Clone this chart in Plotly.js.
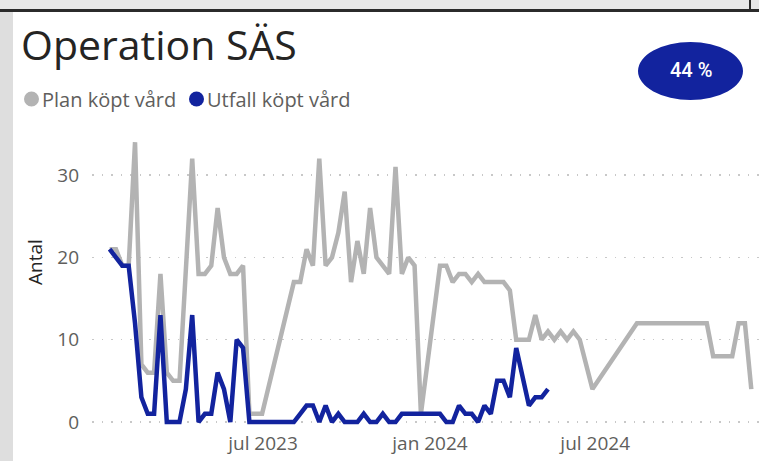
<!DOCTYPE html>
<html>
<head>
<meta charset="utf-8">
<script src="https://cdn.plot.ly/plotly-3.0.1.min.js"></script>
<style>
html,body{margin:0;padding:0;background:#fff;overflow:hidden;}
#chart{width:759px;height:461px;}
</style>
</head>
<body>
<div id="chart"></div>
<script>
// ---- data ----
const chartTitle = "Operation SÄS";
const yAxisTitle = "Antal";
const seriesNames = ["Plan köpt vård", "Utfall köpt vård"];
const kpiText = "44 %";

const weeks = [
  "2023-01-13","2023-01-20","2023-01-27","2023-02-03","2023-02-10","2023-02-17","2023-02-24","2023-03-03",
  "2023-03-10","2023-03-17","2023-03-24","2023-03-31","2023-04-07","2023-04-14","2023-04-21","2023-04-28",
  "2023-05-05","2023-05-12","2023-05-19","2023-05-26","2023-06-02","2023-06-09","2023-06-16","2023-06-23",
  "2023-06-30","2023-07-07","2023-07-14","2023-07-21","2023-07-28","2023-08-04","2023-08-11","2023-08-18",
  "2023-08-25","2023-09-01","2023-09-08","2023-09-15","2023-09-22","2023-09-29","2023-10-06","2023-10-13",
  "2023-10-20","2023-10-27","2023-11-03","2023-11-10","2023-11-17","2023-11-24","2023-12-01","2023-12-08",
  "2023-12-15","2023-12-22","2023-12-29","2024-01-05","2024-01-12","2024-01-19","2024-01-26","2024-02-02",
  "2024-02-09","2024-02-16","2024-02-23","2024-03-01","2024-03-08","2024-03-15","2024-03-22","2024-03-29",
  "2024-04-05","2024-04-12","2024-04-19","2024-04-26","2024-05-03","2024-05-10","2024-05-17","2024-05-24",
  "2024-05-31","2024-06-07","2024-06-14","2024-06-21","2024-06-28","2024-07-05","2024-07-12","2024-07-19",
  "2024-07-26","2024-08-02","2024-08-09","2024-08-16","2024-08-23","2024-08-30","2024-09-06","2024-09-13",
  "2024-09-20","2024-09-27","2024-10-04","2024-10-11","2024-10-18","2024-10-25","2024-11-01","2024-11-08",
  "2024-11-15","2024-11-22","2024-11-29","2024-12-06","2024-12-13","2024-12-20"
];

const planValues = [
  21,21,19,19,34,7,6,6,
  18,6,5,5,null,32,18,18,
  19,26,20,18,18,19,1,1,
  1,null,null,null,null,17,17,21,
  19,32,19,20,23,28,17,22,
  18,26,20,19,18,31,18,20,
  19,1,null,null,19,19,17,18,
  18,17,18,17,17,17,17,16,
  10,10,10,13,10,11,10,11,
  10,11,10,null,4,null,null,null,
  null,null,null,12,12,12,12,12,
  12,12,12,12,12,12,12,8,
  8,8,8,12,12,4
];

const actualValues = [
  21,20,19,19,12,3,1,1,
  13,0,0,0,4,13,0,1,
  1,6,4,0,10,9,0,0,
  0,0,0,0,0,0,1,2,
  2,0,2,0,1,0,0,0,
  1,0,0,1,0,0,1,1,
  1,1,1,1,1,0,0,2,
  1,1,0,2,1,5,5,3,
  9,null,2,3,3,4
];

const tickDates = ["2023-07-01", "2024-01-01", "2024-07-01"];
const tickLabels = ["jul 2023", "jan 2024", "jul 2024"];
const yTicks = [0, 10, 20, 30];

// ---- layout helpers ----
const W = 759, H = 461;
const M = {l: 92, r: 0, t: 134, b: 31};
const PW = W - M.l - M.r, PH = H - M.t - M.b;
const px = x => (x - M.l) / PW;
const py = y => (H - M.b - y) / PH;

const colors = ["#B3B3B3", "#12239E"];
const FONT = "Open Sans, Segoe UI, sans-serif";

const traces = [
  {
    x: weeks, y: planValues, name: seriesNames[0], type: "scatter", mode: "lines",
    line: {color: colors[0], width: 4.5}, connectgaps: true, hoverinfo: "skip"
  },
  {
    x: weeks.slice(0, actualValues.length), y: actualValues, name: seriesNames[1], type: "scatter", mode: "lines",
    line: {color: colors[1], width: 4.5}, connectgaps: true, hoverinfo: "skip"
  }
];

const shapes = [
  // page chrome
  {type: "rect", xref: "paper", yref: "paper", x0: px(0), x1: px(W), y0: py(0), y1: py(9), fillcolor: "#E8E8E8", line: {width: 0}, layer: "below"},
  {type: "rect", xref: "paper", yref: "paper", x0: px(0), x1: px(W), y0: py(9), y1: py(12), fillcolor: "#2B2B2B", line: {width: 0}, layer: "below"},
  {type: "rect", xref: "paper", yref: "paper", x0: px(749), x1: px(751), y0: py(0), y1: py(12), fillcolor: "#2B2B2B", line: {width: 0}, layer: "below"},
  {type: "rect", xref: "paper", yref: "paper", x0: px(0), x1: px(13), y0: py(12), y1: py(H), fillcolor: "#DEDEDE", line: {width: 0}, layer: "below"},
  // legend dots
  {type: "circle", xref: "paper", yref: "paper", x0: px(24), x1: px(39), y0: py(91.5), y1: py(106.5), fillcolor: colors[0], line: {width: 0}},
  {type: "circle", xref: "paper", yref: "paper", x0: px(189), x1: px(204), y0: py(91.5), y1: py(106.5), fillcolor: colors[1], line: {width: 0}},
  // KPI badge
  {type: "circle", xref: "paper", yref: "paper", x0: px(638), x1: px(743), y0: py(42), y1: py(100), fillcolor: "#12239E", line: {width: 0}}
];

const annotations = [
  {text: chartTitle, xref: "paper", yref: "paper", x: px(19), y: py(44), xanchor: "left", yanchor: "middle",
   showarrow: false, font: {family: FONT, size: 41, color: "#252423"}},
  {text: seriesNames[0], xref: "paper", yref: "paper", x: px(40), y: py(99), xanchor: "left", yanchor: "middle",
   showarrow: false, font: {family: FONT, size: 20, color: "#605E5C"}},
  {text: seriesNames[1], xref: "paper", yref: "paper", x: px(205), y: py(99), xanchor: "left", yanchor: "middle",
   showarrow: false, font: {family: FONT, size: 20, color: "#605E5C"}},
  {text: yAxisTitle, xref: "paper", yref: "paper", x: px(35), y: py(262), xanchor: "center", yanchor: "middle", textangle: -90,
   showarrow: false, font: {family: FONT, size: 19, color: "#252423"}},
  {text: kpiText, xref: "paper", yref: "paper", x: px(691), y: py(70), xanchor: "center", yanchor: "middle",
   showarrow: false, font: {family: "Roboto, sans-serif", size: 20, weight: 500, color: "#FFFFFF"}}
];

const layout = {
  width: W, height: H,
  margin: M,
  paper_bgcolor: "#FFFFFF", plot_bgcolor: "#FFFFFF",
  showlegend: false,
  hovermode: false,
  xaxis: {
    type: "date",
    range: ["2022-12-24 14:00", "2024-12-28 12:00"],
    tickvals: tickDates, ticktext: tickLabels,
    showgrid: false, zeroline: false, showline: false, ticks: "",
    tickfont: {family: FONT, size: 19, color: "#605E5C"}
  },
  yaxis: {
    range: [-0.97, 35],
    tickvals: yTicks,
    showgrid: true, gridcolor: "#C8C8C8", gridwidth: 1.5, griddash: "1.5px,8px",
    zeroline: false, showline: false, ticks: "",
    ticklabelstandoff: 12,
    tickfont: {family: FONT, size: 19, color: "#605E5C"}
  },
  shapes: shapes,
  annotations: annotations
};

Plotly.newPlot("chart", traces, layout, {displayModeBar: false, staticPlot: true});
</script>
</body>
</html>
